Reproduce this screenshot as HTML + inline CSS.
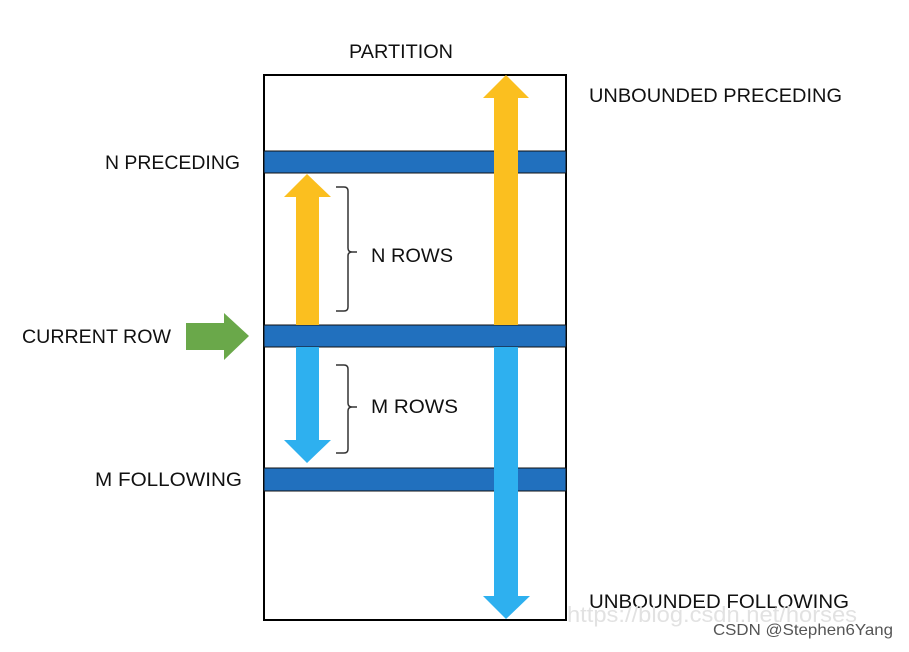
<!DOCTYPE html>
<html><head><style>
body{margin:0;background:#fff;}
svg text{font-family:"Liberation Sans",sans-serif;font-size:19px;fill:#111;}
</style></head><body>
<svg width="909" height="647" viewBox="0 0 909 647" xmlns="http://www.w3.org/2000/svg">
<rect x="0" y="0" width="909" height="647" fill="#fff"/>
<rect x="264" y="75" width="302" height="545" fill="#fff" stroke="#000" stroke-width="2"/>
<rect x="264" y="151" width="302" height="22" fill="#2170be" stroke="#111" stroke-width="1"/>
<rect x="264" y="325" width="302" height="22" fill="#2170be" stroke="#111" stroke-width="1"/>
<rect x="264" y="468" width="302" height="23" fill="#2170be" stroke="#111" stroke-width="1"/>
<polygon points="296,325 296,197 284,197 307,174 331,197 319,197 319,325" fill="#fbbf1f"/>
<polygon points="494,325 494,98 483,98 506,75 529,98 518,98 518,325" fill="#fbbf1f"/>
<polygon points="296,347 296,440 284,440 307,463 331,440 319,440 319,347" fill="#2eb0ef"/>
<polygon points="494,347 494,596 483,596 506,619 530,596 518,596 518,347" fill="#2eb0ef"/>
<polygon points="186,323 224,323 224,313 249,336 224,360 224,350 186,350" fill="#6aa84a"/>
<path d="M336,187 h8 q4,0 4,4 v57 q0,4 4,4 h5 M352,252 q-4,0 -4,4 v51 q0,4 -4,4 h-8" fill="none" stroke="#333" stroke-width="1.5"/>
<path d="M336,365 h8 q4,0 4,4 v34 q0,4 4,4 h5 M352,407 q-4,0 -4,4 v38 q0,4 -4,4 h-8" fill="none" stroke="#333" stroke-width="1.5"/>
<text x="349" y="58" textLength="104" lengthAdjust="spacingAndGlyphs">PARTITION</text>
<text x="589" y="102" textLength="253" lengthAdjust="spacingAndGlyphs">UNBOUNDED PRECEDING</text>
<text x="105" y="169" textLength="135" lengthAdjust="spacingAndGlyphs">N PRECEDING</text>
<text x="371" y="262" textLength="82" lengthAdjust="spacingAndGlyphs">N ROWS</text>
<text x="22" y="343" textLength="149" lengthAdjust="spacingAndGlyphs">CURRENT ROW</text>
<text x="371" y="413" textLength="87" lengthAdjust="spacingAndGlyphs">M ROWS</text>
<text x="95" y="486" textLength="147" lengthAdjust="spacingAndGlyphs">M FOLLOWING</text>
<text x="589" y="608" textLength="260" lengthAdjust="spacingAndGlyphs">UNBOUNDED FOLLOWING</text>
<text x="567" y="622" style="font-size:22px;fill:#e2e2e2;" textLength="290" lengthAdjust="spacingAndGlyphs">https://blog.csdn.net/horses</text>
<text x="713" y="635" style="font-size:16px;fill:#555;" textLength="180" lengthAdjust="spacingAndGlyphs">CSDN @Stephen6Yang</text>
</svg>
</body></html>
